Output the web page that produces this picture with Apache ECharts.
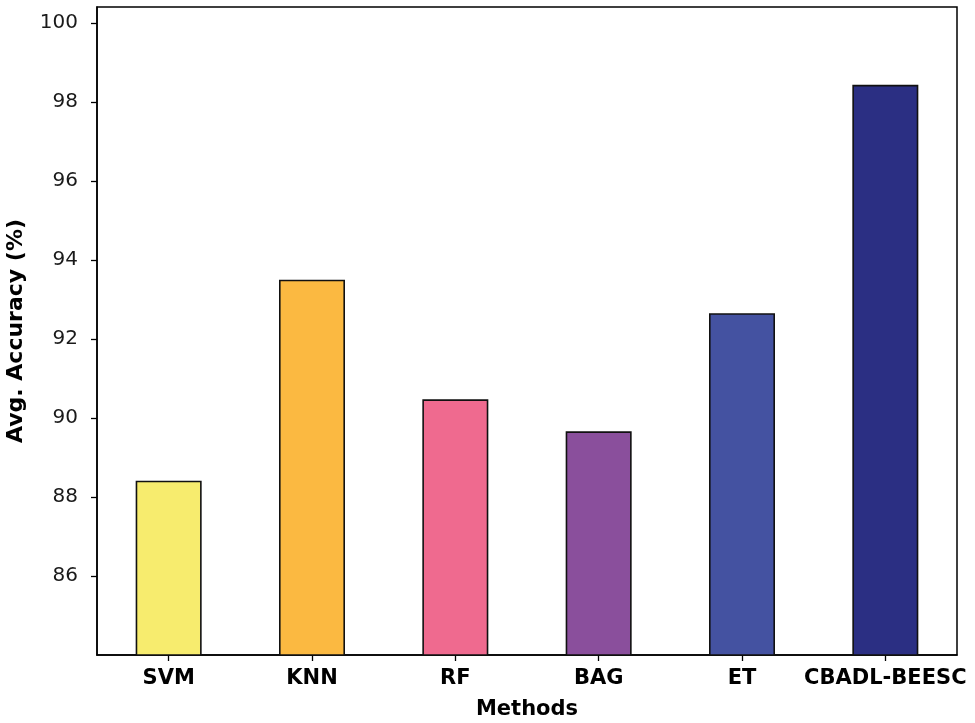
<!DOCTYPE html>
<html><head><meta charset="utf-8">
<script src="https://cdn.jsdelivr.net/npm/echarts@6/dist/echarts.min.js"></script>
<style>html,body{margin:0;padding:0;background:#fff}#c{width:975px;height:723px}</style>
</head><body><div id="c"></div>
<script>
const categories = ['SVM', 'KNN', 'RF', 'BAG', 'ET', 'CBADL-BEESC'];
const accuracy = [88.41, 93.50, 90.47, 89.66, 92.65, 98.43];
const barColors = ['#f7ec6e', '#fbb941', '#ef6a8f', '#8a4f9c', '#4452a1', '#2b2f83'];
const yTicks = [86, 88, 90, 92, 94, 96, 98, 100];

const chart = echarts.init(document.getElementById('c'));
const font = 'DejaVu Sans';
chart.setOption({
  animation: false,
  grid: { left: 97, right: 18, top: 7, bottom: 68, containLabel: false, outerBoundsMode: 'none', show: true, borderColor: '#000', borderWidth: 1.5, backgroundColor: 'transparent' },
  xAxis: {
    type: 'category', data: categories,
    name: 'Methods', nameLocation: 'middle', nameGap: 44,
    nameTextStyle: { fontFamily: font, fontWeight: 'bold', fontSize: 21, color: '#000' },
    axisLine: { show: true, lineStyle: { color: '#000', width: 1.5 } },
    axisTick: { show: true, alignWithLabel: true, length: 6, lineStyle: { color: '#000', width: 1.3 } },
    axisLabel: { fontFamily: font, fontWeight: 'bold', fontSize: 21, color: '#000', margin: 13, interval: 0 }
  },
  yAxis: {
    type: 'value', min: 84, max: 100.4, interval: 2,
    name: 'Avg. Accuracy (%)', nameLocation: 'middle', nameGap: 70, nameRotate: 90,
    nameTextStyle: { fontFamily: font, fontWeight: 'bold', fontSize: 22, color: '#000' },
    splitLine: { show: false },
    axisLine: { show: true, lineStyle: { color: '#000', width: 1.5 } },
    axisTick: { show: true, length: 6, lineStyle: { color: '#000', width: 1.3 }, customValues: yTicks },
    axisLabel: { fontFamily: font, fontSize: 20, color: '#1a1a1a', margin: 19, customValues: yTicks }
  },
  series: [{
    type: 'bar', barWidth: 66,
    data: accuracy.map((v, i) => ({ value: v, itemStyle: { color: barColors[i] } })),
    itemStyle: { borderColor: '#111', borderWidth: 1.6 }
  }]
});
</script></body></html>
